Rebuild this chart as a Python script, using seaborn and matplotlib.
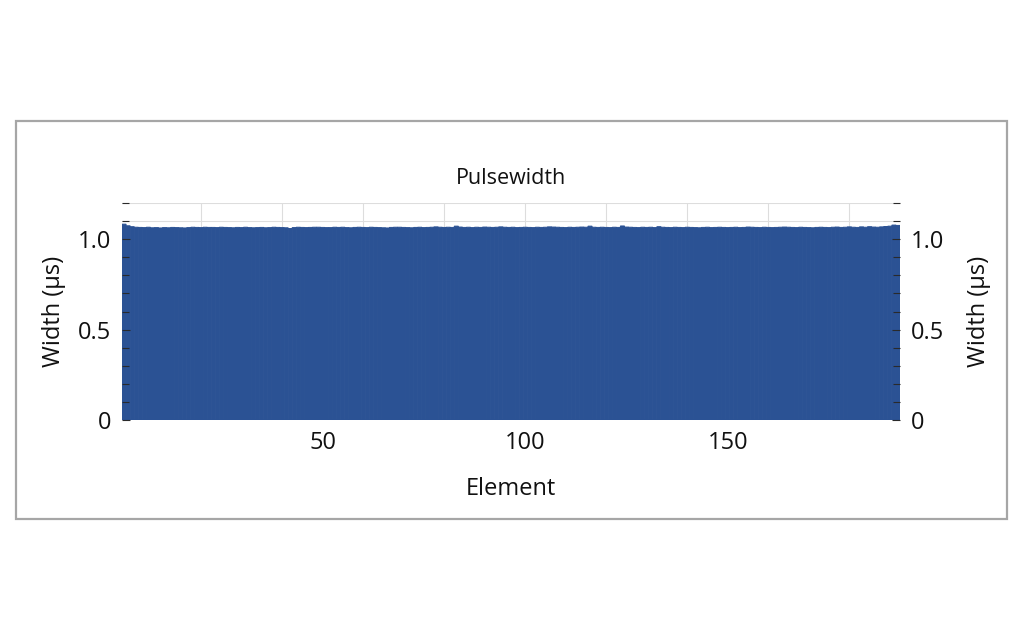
import matplotlib
matplotlib.use("Agg")
import matplotlib.pyplot as plt
import seaborn as sns
import numpy as np
import pandas as pd
from matplotlib.patches import Rectangle
from matplotlib.ticker import MultipleLocator

elements = list(range(1, 193))
widths = [
    1.083, 1.074, 1.069, 1.066, 1.065, 1.064, 1.066, 1.063, 1.064, 1.062, 1.064, 1.063,
    1.065, 1.064, 1.063, 1.062, 1.064, 1.066, 1.065, 1.064, 1.066, 1.065, 1.065, 1.064,
    1.066, 1.065, 1.064, 1.063, 1.065, 1.064, 1.066, 1.064, 1.063, 1.064, 1.065, 1.063,
    1.064, 1.066, 1.065, 1.064, 1.063, 1.059, 1.064, 1.066, 1.065, 1.064, 1.065, 1.066,
    1.066, 1.065, 1.064, 1.064, 1.066, 1.065, 1.066, 1.064, 1.063, 1.065, 1.066, 1.065,
    1.064, 1.066, 1.065, 1.064, 1.063, 1.062, 1.065, 1.066, 1.066, 1.065, 1.064, 1.063,
    1.065, 1.066, 1.064, 1.065, 1.066, 1.068, 1.066, 1.065, 1.066, 1.065, 1.072, 1.067,
    1.065, 1.066, 1.064, 1.066, 1.065, 1.067, 1.066, 1.065, 1.066, 1.068, 1.066, 1.065,
    1.066, 1.064, 1.065, 1.066, 1.065, 1.064, 1.066, 1.065, 1.066, 1.068, 1.067, 1.066,
    1.065, 1.064, 1.066, 1.065, 1.066, 1.067, 1.066, 1.072, 1.066, 1.065, 1.066, 1.065,
    1.064, 1.066, 1.065, 1.073, 1.067, 1.066, 1.065, 1.064, 1.066, 1.065, 1.066, 1.064,
    1.069, 1.066, 1.065, 1.064, 1.066, 1.065, 1.064, 1.066, 1.065, 1.064, 1.063, 1.065,
    1.066, 1.064, 1.065, 1.066, 1.065, 1.064, 1.065, 1.066, 1.064, 1.065, 1.067, 1.066,
    1.065, 1.064, 1.066, 1.065, 1.064, 1.065, 1.066, 1.067, 1.066, 1.065, 1.064, 1.066,
    1.065, 1.064, 1.063, 1.065, 1.066, 1.065, 1.064, 1.066, 1.067, 1.065, 1.066, 1.068,
    1.066, 1.065, 1.068, 1.066, 1.069, 1.067, 1.066, 1.068, 1.070, 1.072, 1.078, 1.076,
]

df = pd.DataFrame({"Element": elements, "Width": widths})

sns.set_theme(style="white")
plt.rcParams['font.family'] = ['Open Sans', 'DejaVu Sans']

BAR = "#2b5294"
TXT = "#111111"
FS = 17

fig = plt.figure(figsize=(10.24, 6.4), dpi=100)
fig.patches.append(Rectangle((16 / 1024, 1 - 519 / 640), (1007 - 16) / 1024, (519 - 121) / 640,
                             transform=fig.transFigure, fill=False, edgecolor="#a6a6a6",
                             linewidth=1.6, zorder=0))

ax = fig.add_axes([122 / 1024, 1 - 420 / 640, (900 - 122) / 1024, (420 - 203) / 640])
sns.barplot(data=df, x="Element", y="Width", native_scale=True, width=1.0,
            color=BAR, saturation=1, linewidth=0.7, edgecolor=BAR, ax=ax)
for p in ax.patches:
    p.set_zorder(1)
    p.set_snap(False)
ax.set_axisbelow(False)

ax.set_xlim(0.5, 192.5)
ax.set_ylim(0, 1.2)
for s in ax.spines.values():
    s.set_visible(False)

ax.xaxis.set_major_locator(MultipleLocator(50))
ax.xaxis.set_minor_locator(MultipleLocator(10))
ax.set_yticks([0, 0.5, 1.0])
ax.set_yticklabels(["0", "0.5", "1.0"])
ax.yaxis.set_minor_locator(MultipleLocator(0.1))

# grid lines (only visible above bars)
for gx in range(20, 193, 20):
    ax.axvline(gx, ymin=0.85, color="#dddddd", linewidth=0.8, zorder=0)
for gy in [1.1, 1.2]:
    ax.axhline(gy, color="#dddddd", linewidth=0.8, zorder=0)

ax.tick_params(axis="both", which="both", direction="in", color="#2a2a2a", width=0.8)
ax.tick_params(axis="both", which="major", length=6, labelsize=FS, labelcolor=TXT, pad=8)
ax.tick_params(axis="both", which="minor", length=5)
ax.tick_params(axis="y", which="both", left=True, right=False)

ax.set_xlabel("Element", fontsize=FS, color=TXT, labelpad=16)
ax.set_ylabel("Width (μs)", fontsize=FS, color=TXT, labelpad=8)
ax.set_title("Pulsewidth", fontsize=15.5, color=TXT, pad=14)

ax2 = ax.twinx()
ax2.set_ylim(0, 1.2)
for s in ax2.spines.values():
    s.set_visible(False)
ax2.set_yticks([0, 0.5, 1.0])
ax2.set_yticklabels(["0", "0.5", "1.0"])
ax2.yaxis.set_minor_locator(MultipleLocator(0.1))
ax2.tick_params(axis="y", which="both", direction="in", color="#2a2a2a", width=0.8)
ax2.tick_params(axis="y", which="major", length=6, labelsize=FS, labelcolor=TXT, pad=8)
ax2.tick_params(axis="y", which="minor", length=5)
ax2.set_ylabel("Width (μs)", fontsize=FS, color=TXT, labelpad=16, rotation=90)

fig.savefig("out.png", dpi=100)
